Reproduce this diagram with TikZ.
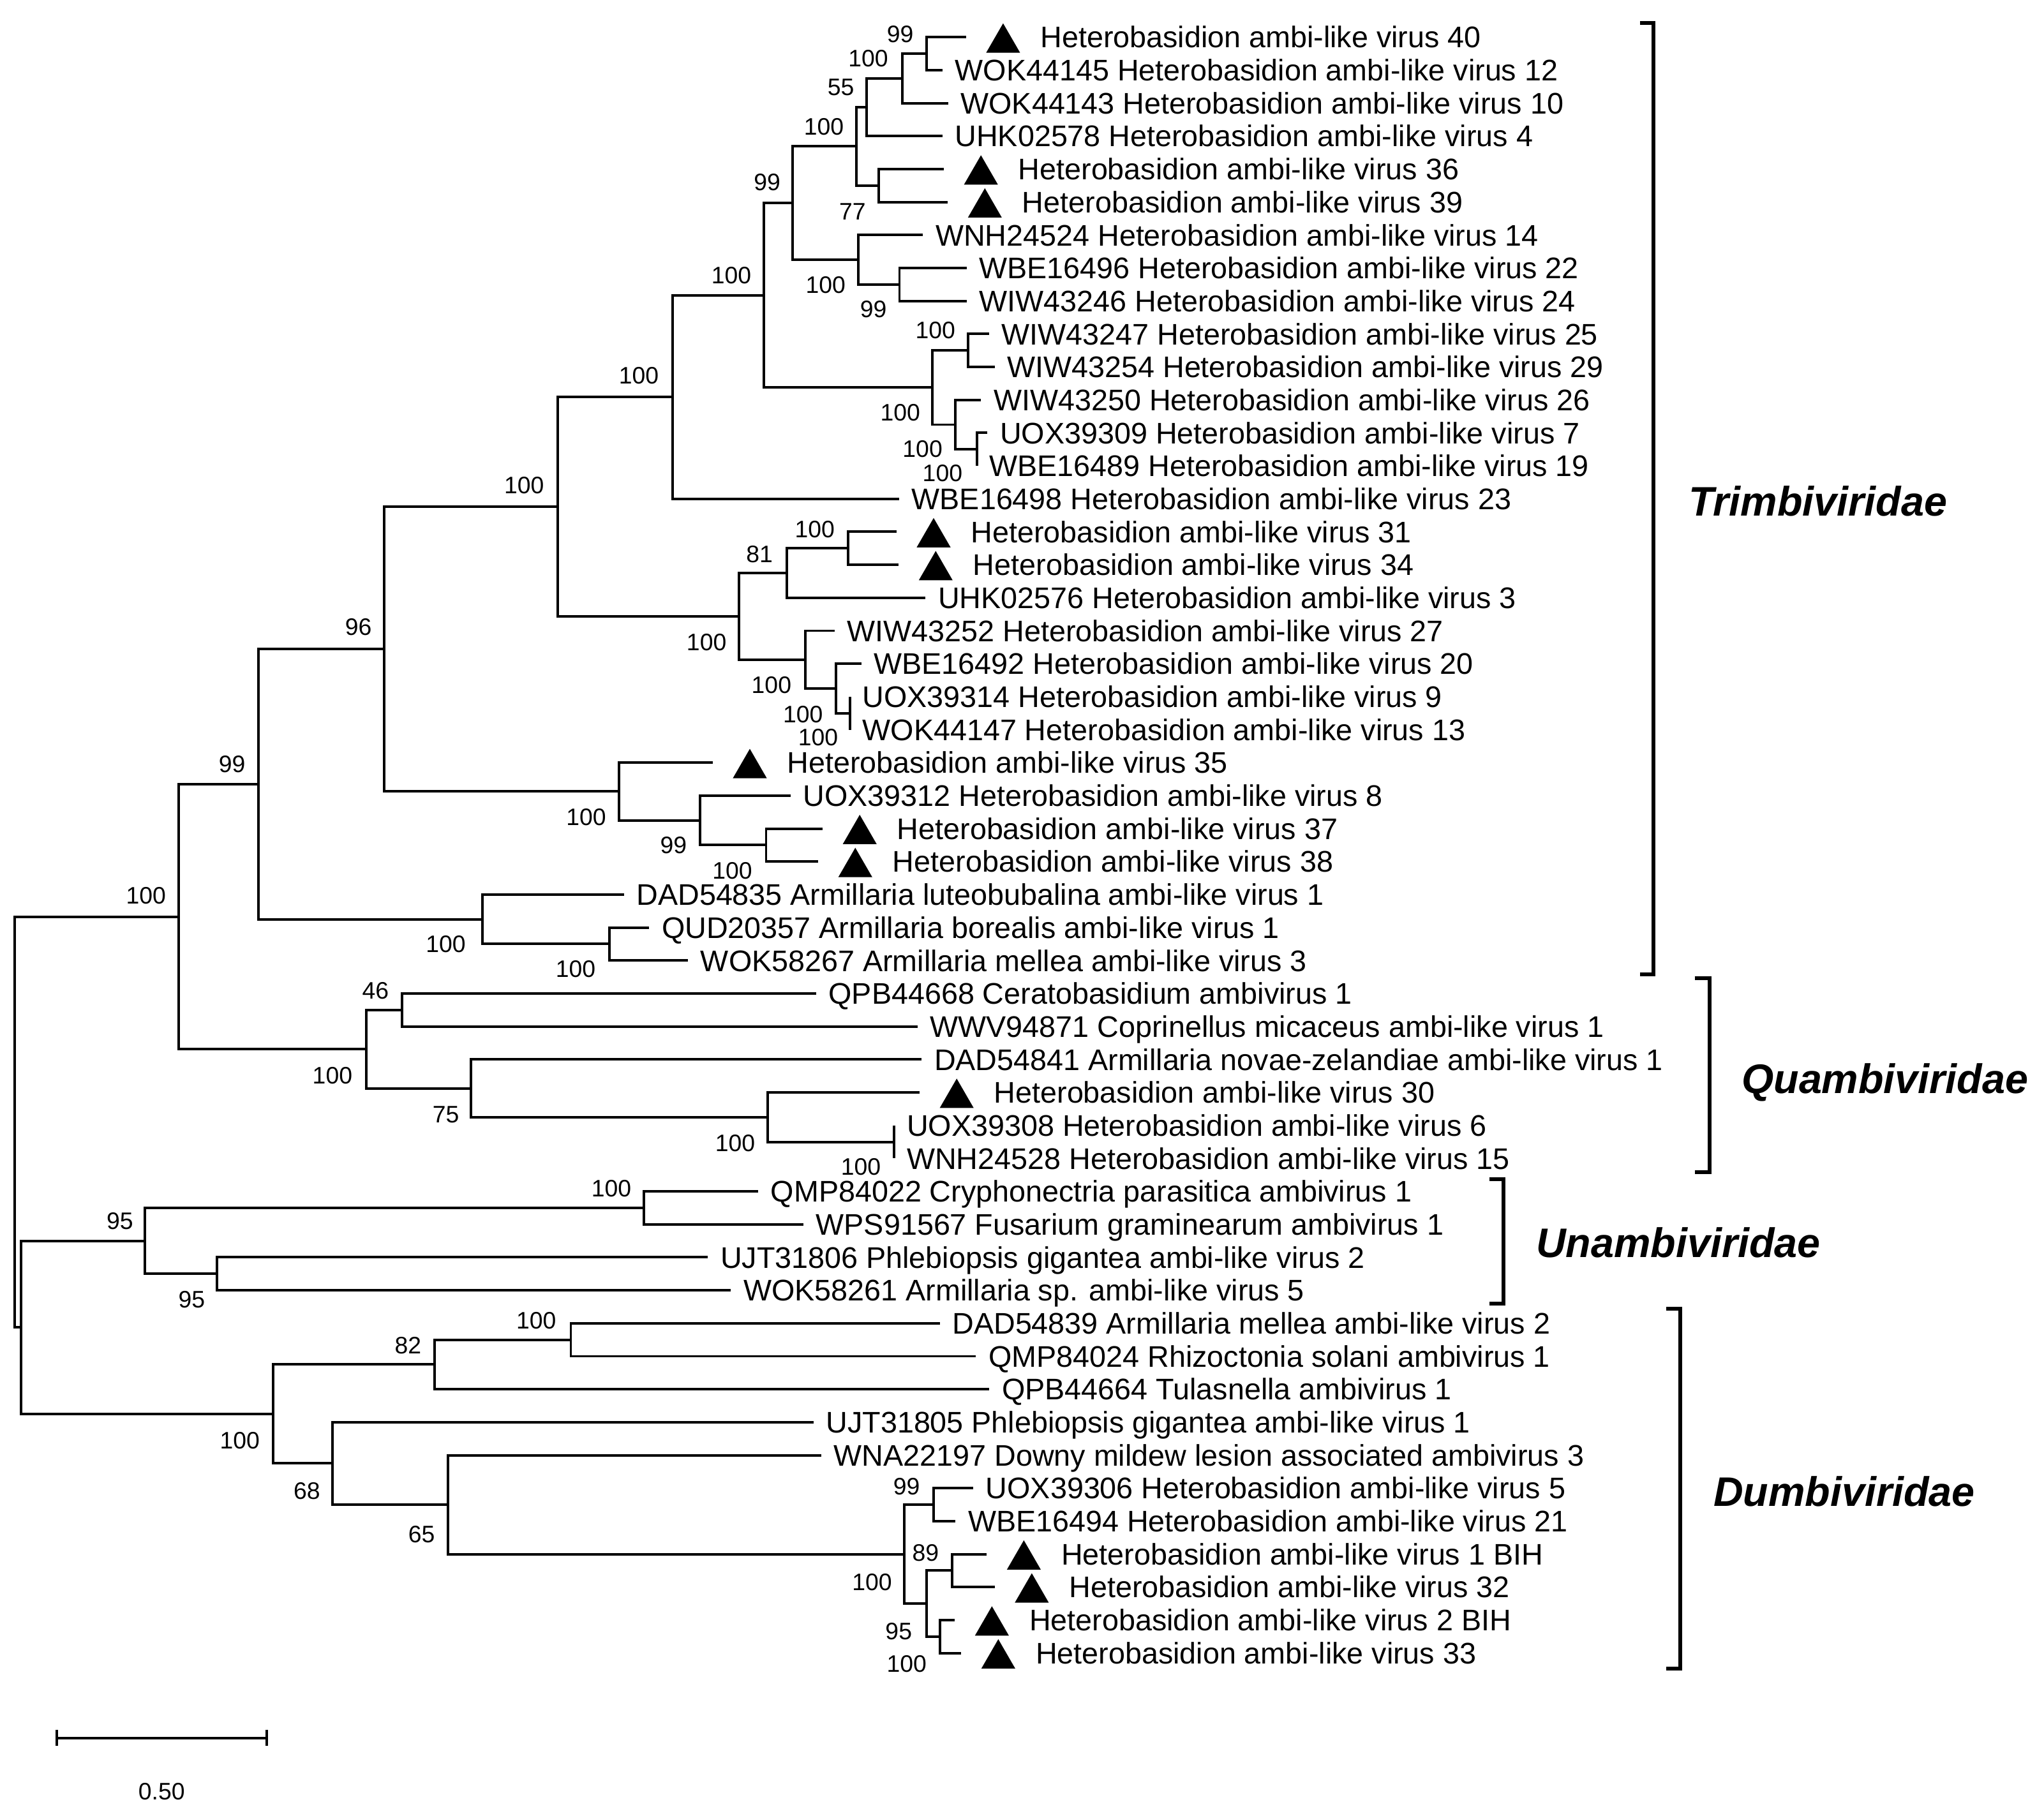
\documentclass[tikz,border=0pt]{standalone}
\usepackage{fontspec}
\setmainfont{Liberation Sans}
\usepackage{tikz}
\usetikzlibrary{positioning,shapes.geometric}

\begin{document}
\begin{tikzpicture}[x=0.01cm, y=-0.01cm,
    branch/.style={line width=0.55pt},
    bracket/.style={line width=0.8pt},
    leaf/.style={inner sep=0pt, font=\fontsize{6.5}{7}\selectfont, text height=4.65pt, text depth=0pt},
    boot/.style={inner sep=0pt, font=\fontsize{5.2}{6}\selectfont, text height=3.72pt, text depth=0pt},
    fam/.style={inner sep=0pt, font=\fontsize{9}{10}\selectfont\bfseries\itshape, text height=6.44pt, text depth=0pt},
    tri/.style={regular polygon, regular polygon sides=3, minimum size=0.3cm, inner sep=0pt, fill=black, xshift=0.285cm, yshift=-0.044cm}]
            \useasboundingbox (0,0) rectangle (1568,1393);

            % tips
            \coordinate (t1) at (741,28.5);
            \coordinate (t2) at (723,53.8);
            \coordinate (t3) at (727.3,79.1);
            \coordinate (t4) at (722.9,104.4);
            \coordinate (t5) at (724,129.7);
            \coordinate (t6) at (727,155);
            \coordinate (t7) at (708,180.3);
            \coordinate (t8) at (741.5,205.6);
            \coordinate (t9) at (741.5,230.9);
            \coordinate (t10) at (758.8,256.2);
            \coordinate (t11) at (763,281.5);
            \coordinate (t12) at (752.6,306.8);
            \coordinate (t13) at (757.5,332.1);
            \coordinate (t14) at (749.3,357.4);
            \coordinate (t15) at (689.7,382.7);
            \coordinate (t16) at (687.7,408);
            \coordinate (t17) at (689.3,433.3);
            \coordinate (t18) at (710,458.6);
            \coordinate (t19) at (640.3,483.9);
            \coordinate (t20) at (660.7,509.2);
            \coordinate (t21) at (652,534.5);
            \coordinate (t22) at (652,559.8);
            \coordinate (t23) at (546.7,585.1);
            \coordinate (t24) at (606.4,610.4);
            \coordinate (t25) at (631,635.7);
            \coordinate (t26) at (627.6,661);
            \coordinate (t27) at (478.6,686.3);
            \coordinate (t28) at (498,711.6);
            \coordinate (t29) at (527.8,736.9);
            \coordinate (t30) at (626,762.2);
            \coordinate (t31) at (703.8,787.5);
            \coordinate (t32) at (707,812.8);
            \coordinate (t33) at (705.4,838.1);
            \coordinate (t34) at (686,863.4);
            \coordinate (t35) at (686,888.7);
            \coordinate (t36) at (581.6,914);
            \coordinate (t37) at (616.3,939.3);
            \coordinate (t38) at (543,964.6);
            \coordinate (t39) at (560.7,989.9);
            \coordinate (t40) at (720.9,1015.2);
            \coordinate (t41) at (748.7,1040.5);
            \coordinate (t42) at (759,1065.8);
            \coordinate (t43) at (624,1091.1);
            \coordinate (t44) at (630,1116.4);
            \coordinate (t45) at (746.6,1141.7);
            \coordinate (t46) at (733,1167);
            \coordinate (t47) at (756.9,1192.3);
            \coordinate (t48) at (763,1217.6);
            \coordinate (t49) at (732.4,1242.9);
            \coordinate (t50) at (737.3,1268.2);

            % inner nodes
            \coordinate (n1) at (711,41.15);
            \coordinate (n2) at (692,60.13);
            \coordinate (n3) at (665,82.26);
            \coordinate (n4) at (674,142.35);
            \coordinate (n5) at (657,112.3);
            \coordinate (n6) at (690,218.25);
            \coordinate (n7) at (658.4,199.28);
            \coordinate (n8) at (608,155.79);
            \coordinate (n9) at (742.5,268.85);
            \coordinate (n10) at (749.3,344.75);
            \coordinate (n11) at (733,325.78);
            \coordinate (n12) at (715.4,297.31);
            \coordinate (n13) at (585.8,226.55);
            \coordinate (n14) at (516,304.63);
            \coordinate (n15) at (650.7,420.65);
            \coordinate (n16) at (603.4,439.63);
            \coordinate (n17) at (652,547.15);
            \coordinate (n18) at (641.5,528.18);
            \coordinate (n19) at (617.7,506.04);
            \coordinate (n20) at (566.9,472.84);
            \coordinate (n21) at (427.7,388.74);
            \coordinate (n22) at (587.7,648.35);
            \coordinate (n23) at (536.8,629.38);
            \coordinate (n24) at (475,607.24);
            \coordinate (n25) at (294.7,497.99);
            \coordinate (n26) at (467.5,724.25);
            \coordinate (n27) at (370,705.28);
            \coordinate (n28) at (198.4,601.64);
            \coordinate (n29) at (308.2,774.85);
            \coordinate (n30) at (686,876.05);
            \coordinate (n31) at (588.7,857.08);
            \coordinate (n32) at (361.3,834.94);
            \coordinate (n33) at (280.9,804.9);
            \coordinate (n34) at (137,703.27);
            \coordinate (n35) at (494,926.65);
            \coordinate (n36) at (166.5,977.25);
            \coordinate (n37) at (111.3,951.95);
            \coordinate (n38) at (437.9,1027.85);
            \coordinate (n39) at (333.6,1046.83);
            \coordinate (n40) at (716,1154.35);
            \coordinate (n41) at (730.3,1204.95);
            \coordinate (n42) at (720.9,1255.55);
            \coordinate (n43) at (710.7,1230.25);
            \coordinate (n44) at (693.5,1192.3);
            \coordinate (n45) at (343.8,1154.35);
            \coordinate (n46) at (255,1122.73);
            \coordinate (n47) at (209.6,1084.78);
            \coordinate (n48) at (16.3,1018.37);
            \coordinate (root) at (11.4,860.8);

            % branches
            \draw[branch] (t1) -| (n1) |- (t2); % 40-12
            \draw[branch] (n1) -| (n2) |- (t3);
            \draw[branch] (n2) -| (n3) |- (t4);
            \draw[branch] (t5) -| (n4) |- (t6); % 36-39
            \draw[branch] (n3) -| (n5) |- (n4);
            \draw[branch] (t8) -| (n6) |- (t9); % 22-24
            \draw[branch] (t7) -| (n7) |- (n6);
            \draw[branch] (n5) -| (n8) |- (n7);
            \draw[branch] (t10) -| (n9) |- (t11); % 25-29
            \draw[branch] (t13) -| (n10) |- (t14); % 7-19
            \draw[branch] (t12) -| (n11) |- (n10);
            \draw[branch] (n9) -| (n12) |- (n11);
            \draw[branch] (n8) -| (n13) |- (n12);
            \draw[branch] (n13) -| (n14) |- (t15);
            \draw[branch] (t16) -| (n15) |- (t17); % 31-34
            \draw[branch] (n15) -| (n16) |- (t18);
            \draw[branch] (t21) -| (n17) |- (t22); % 9-13
            \draw[branch] (t20) -| (n18) |- (n17);
            \draw[branch] (t19) -| (n19) |- (n18);
            \draw[branch] (n16) -| (n20) |- (n19);
            \draw[branch] (n14) -| (n21) |- (n20);
            \draw[branch] (t25) -| (n22) |- (t26); % 37-38
            \draw[branch] (t24) -| (n23) |- (n22);
            \draw[branch] (t23) -| (n24) |- (n23);
            \draw[branch] (n21) -| (n25) |- (n24);
            \draw[branch] (t28) -| (n26) |- (t29);
            \draw[branch] (t27) -| (n27) |- (n26);
            \draw[branch] (n25) -| (n28) |- (n27);
            \draw[branch] (t30) -| (n29) |- (t31);
            \draw[branch] (t34) -| (n30) |- (t35); % 6-15
            \draw[branch] (t33) -| (n31) |- (n30);
            \draw[branch] (t32) -| (n32) |- (n31);
            \draw[branch] (n29) -| (n33) |- (n32);
            \draw[branch] (n28) -| (n34) |- (n33);
            \draw[branch] (t36) -| (n35) |- (t37);
            \draw[branch] (t38) -| (n36) |- (t39);
            \draw[branch] (n35) -| (n37) |- (n36);
            \draw[branch] (t40) -| (n38) |- (t41);
            \draw[branch] (n38) -| (n39) |- (t42);
            \draw[branch] (t45) -| (n40) |- (t46); % 5-21
            \draw[branch] (t47) -| (n41) |- (t48); % 1BIH-32
            \draw[branch] (t49) -| (n42) |- (t50); % 2BIH-33
            \draw[branch] (n41) -| (n43) |- (n42);
            \draw[branch] (n40) -| (n44) |- (n43);
            \draw[branch] (t44) -| (n45) |- (n44);
            \draw[branch] (t43) -| (n46) |- (n45);
            \draw[branch] (n39) -| (n47) |- (n46);
            \draw[branch] (n37) -| (n48) |- (n47);
            \draw[branch] (n34) -| (root) |- (n48);

            % marks
            \node[tri] (m1) at (t1) {};
            \node[tri] (m5) at (t5) {};
            \node[tri] (m6) at (t6) {};
            \node[tri] (m16) at (t16) {};
            \node[tri] (m17) at (t17) {};
            \node[tri] (m23) at (t23) {};
            \node[tri] (m25) at (t25) {};
            \node[tri] (m26) at (t26) {};
            \node[tri] (m33) at (t33) {};
            \node[tri] (m47) at (t47) {};
            \node[tri] (m48) at (t48) {};
            \node[tri] (m49) at (t49) {};
            \node[tri] (m50) at (t50) {};

            % leaf labels
            \node[leaf, right=0.565cm of t1] (l1) {Heterobasidion ambi-like virus 40};
            \node[leaf, right=0.09cm of t2] (l2) {WOK44145 Heterobasidion ambi-like virus 12};
            \node[leaf, right=0.09cm of t3] (l3) {WOK44143 Heterobasidion ambi-like virus 10};
            \node[leaf, right=0.09cm of t4] (l4) {UHK02578 Heterobasidion ambi-like virus 4};
            \node[leaf, right=0.565cm of t5] (l5) {Heterobasidion ambi-like virus 36};
            \node[leaf, right=0.565cm of t6] (l6) {Heterobasidion ambi-like virus 39};
            \node[leaf, right=0.09cm of t7] (l7) {WNH24524 Heterobasidion ambi-like virus 14};
            \node[leaf, right=0.09cm of t8] (l8) {WBE16496 Heterobasidion ambi-like virus 22};
            \node[leaf, right=0.09cm of t9] (l9) {WIW43246 Heterobasidion ambi-like virus 24};
            \node[leaf, right=0.09cm of t10] (l10) {WIW43247 Heterobasidion ambi-like virus 25};
            \node[leaf, right=0.09cm of t11] (l11) {WIW43254 Heterobasidion ambi-like virus 29};
            \node[leaf, right=0.09cm of t12] (l12) {WIW43250 Heterobasidion ambi-like virus 26};
            \node[leaf, right=0.09cm of t13] (l13) {UOX39309 Heterobasidion ambi-like virus 7};
            \node[leaf, right=0.09cm of t14] (l14) {WBE16489 Heterobasidion ambi-like virus 19};
            \node[leaf, right=0.09cm of t15] (l15) {WBE16498 Heterobasidion ambi-like virus 23};
            \node[leaf, right=0.565cm of t16] (l16) {Heterobasidion ambi-like virus 31};
            \node[leaf, right=0.565cm of t17] (l17) {Heterobasidion ambi-like virus 34};
            \node[leaf, right=0.09cm of t18] (l18) {UHK02576 Heterobasidion ambi-like virus 3};
            \node[leaf, right=0.09cm of t19] (l19) {WIW43252 Heterobasidion ambi-like virus 27};
            \node[leaf, right=0.09cm of t20] (l20) {WBE16492 Heterobasidion ambi-like virus 20};
            \node[leaf, right=0.09cm of t21] (l21) {UOX39314 Heterobasidion ambi-like virus 9};
            \node[leaf, right=0.09cm of t22] (l22) {WOK44147 Heterobasidion ambi-like virus 13};
            \node[leaf, right=0.565cm of t23] (l23) {Heterobasidion ambi-like virus 35};
            \node[leaf, right=0.09cm of t24] (l24) {UOX39312 Heterobasidion ambi-like virus 8};
            \node[leaf, right=0.565cm of t25] (l25) {Heterobasidion ambi-like virus 37};
            \node[leaf, right=0.565cm of t26] (l26) {Heterobasidion ambi-like virus 38};
            \node[leaf, right=0.09cm of t27] (l27) {DAD54835 Armillaria luteobubalina ambi-like virus 1};
            \node[leaf, right=0.09cm of t28] (l28) {QUD20357 Armillaria borealis ambi-like virus 1};
            \node[leaf, right=0.09cm of t29] (l29) {WOK58267 Armillaria mellea ambi-like virus 3};
            \node[leaf, right=0.09cm of t30] (l30) {QPB44668 Ceratobasidium ambivirus 1};
            \node[leaf, right=0.09cm of t31] (l31) {WWV94871 Coprinellus micaceus ambi-like virus 1};
            \node[leaf, right=0.09cm of t32] (l32) {DAD54841 Armillaria novae-zelandiae ambi-like virus 1};
            \node[leaf, right=0.565cm of t33] (l33) {Heterobasidion ambi-like virus 30};
            \node[leaf, right=0.09cm of t34] (l34) {UOX39308 Heterobasidion ambi-like virus 6};
            \node[leaf, right=0.09cm of t35] (l35) {WNH24528 Heterobasidion ambi-like virus 15};
            \node[leaf, right=0.09cm of t36] (l36) {QMP84022 Cryphonectria parasitica ambivirus 1};
            \node[leaf, right=0.09cm of t37] (l37) {WPS91567 Fusarium graminearum ambivirus 1};
            \node[leaf, right=0.09cm of t38] (l38) {UJT31806 Phlebiopsis gigantea ambi-like virus 2};
            \node[leaf, right=0.09cm of t39] (l39) {WOK58261 Armillaria sp. ambi-like virus 5};
            \node[leaf, right=0.09cm of t40] (l40) {DAD54839 Armillaria mellea ambi-like virus 2};
            \node[leaf, right=0.09cm of t41] (l41) {QMP84024 Rhizoctonia solani ambivirus 1};
            \node[leaf, right=0.09cm of t42] (l42) {QPB44664 Tulasnella ambivirus 1};
            \node[leaf, right=0.09cm of t43] (l43) {UJT31805 Phlebiopsis gigantea ambi-like virus 1};
            \node[leaf, right=0.09cm of t44] (l44) {WNA22197 Downy mildew lesion associated ambivirus 3};
            \node[leaf, right=0.09cm of t45] (l45) {UOX39306 Heterobasidion ambi-like virus 5};
            \node[leaf, right=0.09cm of t46] (l46) {WBE16494 Heterobasidion ambi-like virus 21};
            \node[leaf, right=0.565cm of t47] (l47) {Heterobasidion ambi-like virus 1 BIH};
            \node[leaf, right=0.565cm of t48] (l48) {Heterobasidion ambi-like virus 32};
            \node[leaf, right=0.565cm of t49] (l49) {Heterobasidion ambi-like virus 2 BIH};
            \node[leaf, right=0.565cm of t50] (l50) {Heterobasidion ambi-like virus 33};

            % bootstrap values
            \node[boot] (b1) at (690.6,26) {99};
            \node[boot] (b2) at (666,44.8) {100};
            \node[boot] (b3) at (645,66.7) {55};
            \node[boot] (b4) at (654,162) {77};
            \node[boot] (b5) at (632,97) {100};
            \node[boot] (b6) at (670,237) {99};
            \node[boot] (b7) at (633.4,218.3) {100};
            \node[boot] (b8) at (588.5,139.6) {99};
            \node[boot] (b9) at (717.5,253) {100};
            \node[boot] (b10) at (723,363) {100};
            \node[boot] (b11) at (707.7,344.4) {100};
            \node[boot] (b12) at (690.6,316.4) {100};
            \node[boot] (b13) at (561,211) {100};
            \node[boot] (b14) at (490,288) {100};
            \node[boot] (b15) at (625,406) {100};
            \node[boot] (b16) at (582.6,425) {81};
            \node[boot] (b17) at (627.6,565.6) {100};
            \node[boot] (b18) at (616,548) {100};
            \node[boot] (b19) at (591.8,525.5) {100};
            \node[boot] (b20) at (542,492.6) {100};
            \node[boot] (b21) at (402,372) {100};
            \node[boot] (b22) at (561.8,668) {100};
            \node[boot] (b23) at (516.7,648.4) {99};
            \node[boot] (b24) at (449.7,626.5) {100};
            \node[boot] (b25) at (274.9,481) {96};
            \node[boot] (b26) at (441.6,743.4) {100};
            \node[boot] (b27) at (342,724) {100};
            \node[boot] (b28) at (178,586) {99};
            \node[boot] (b29) at (288,760) {46};
            \node[boot] (b30) at (660.4,895) {100};
            \node[boot] (b31) at (564,876.8) {100};
            \node[boot] (b32) at (342,855) {75};
            \node[boot] (b33) at (255,825) {100};
            \node[boot] (b34) at (112,687) {100};
            \node[boot] (b35) at (469,911.7) {100};
            \node[boot] (b36) at (147,996.8) {95};
            \node[boot] (b37) at (92,936.5) {95};
            \node[boot] (b38) at (411.3,1013) {100};
            \node[boot] (b39) at (313,1032) {82};
            \node[boot] (b40) at (695.5,1140) {99};
            \node[boot] (b41) at (710,1191.3) {89};
            \node[boot] (b42) at (695.5,1276.4) {100};
            \node[boot] (b43) at (689.4,1251.3) {95};
            \node[boot] (b44) at (669,1213.5) {100};
            \node[boot] (b45) at (323.4,1176.8) {65};
            \node[boot] (b46) at (235.4,1143.8) {68};
            \node[boot] (b47) at (184,1105) {100};

            % families
            \draw[bracket] (1258,17.5) -| (1268.4,747.5) -- (1258,747.5);
            \node[fam] (trim) at (1394.6,384.6) {Trimbiviridae};
            \draw[bracket] (1300,750.3) -| (1311.5,899.3) -- (1300,899.3);
            \node[fam] (quam) at (1446,827.5) {Quambiviridae};
            \draw[bracket] (1142.4,904.6) -| (1153.3,1000) -- (1142.4,1000);
            \node[fam] (unam) at (1287.4,953.3) {Unambiviridae};
            \draw[bracket] (1278.2,1004.1) -| (1289,1280) -- (1278.2,1280);
            \node[fam] (dumb) at (1414.7,1144) {Dumbiviridae};

            % scale
            \coordinate (s0) at (43.5,1333.3);
            \coordinate (s1) at (204.7,1333.3);
            \draw[branch] (s0) -- (s1);
            \draw[branch] (43.5,1327) -- (43.5,1339.5);
            \draw[branch] (204.7,1327) -- (204.7,1339.5);
            \node[boot] (scale) at (124,1374) {0.50};
        \end{tikzpicture}
\end{document}
